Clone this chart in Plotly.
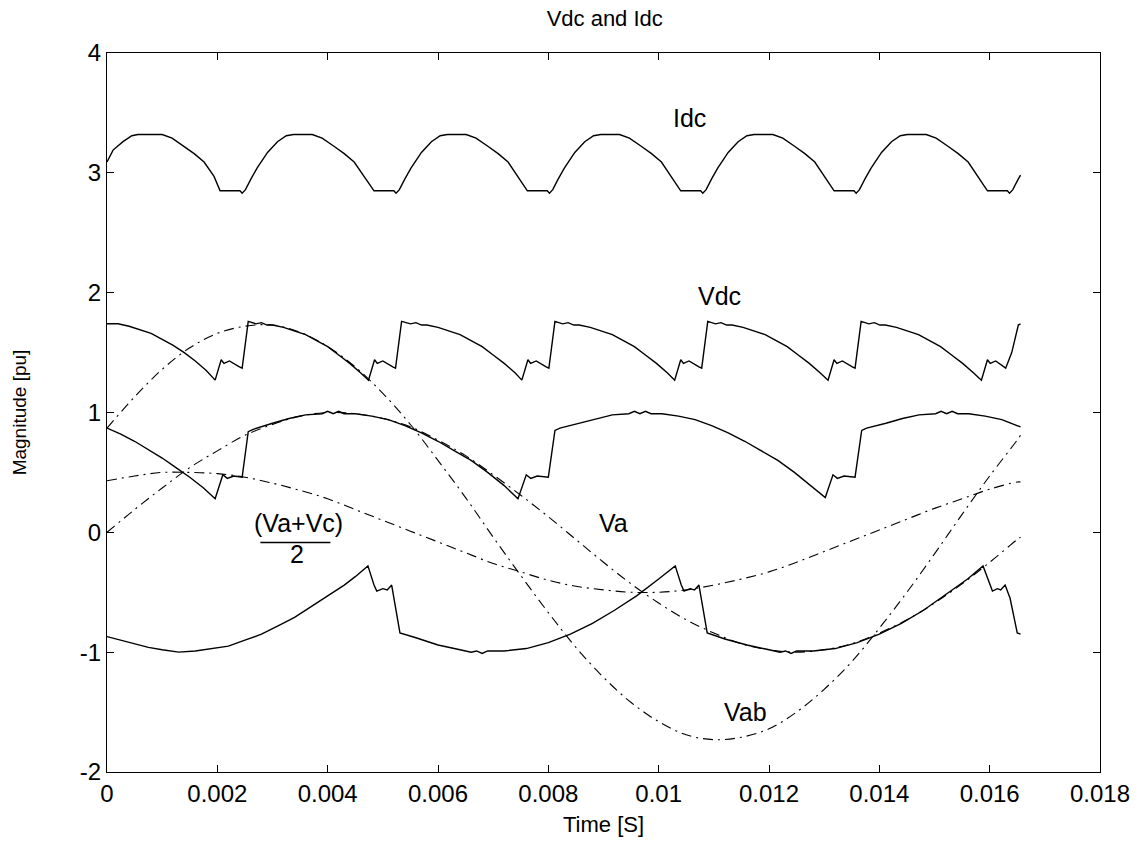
import plotly.graph_objects as go

# ---------------- data ----------------
# Smooth reference waveforms (dash-dot)
t_ref = [0.0, 0.0005, 0.001, 0.0015, 0.002, 0.0025, 0.003, 0.0035, 0.004, 0.0045,
         0.005, 0.0055, 0.006, 0.0065, 0.007, 0.0075, 0.008, 0.0085, 0.009, 0.0095,
         0.010, 0.0105, 0.011, 0.0115, 0.012, 0.0125, 0.013, 0.0135, 0.014, 0.0145,
         0.015, 0.0155, 0.016, 0.0165, 0.01656]
va_vals = [0.00, 0.19, 0.37, 0.54, 0.68, 0.81, 0.90, 0.97, 1.00, 0.99,
           0.95, 0.88, 0.77, 0.64, 0.48, 0.31, 0.13, -0.06, -0.25, -0.43,
           -0.59, -0.73, -0.84, -0.93, -0.98, -1.00, -0.98, -0.93, -0.84, -0.73,
           -0.59, -0.43, -0.25, -0.06, -0.04]
vab_vals = [0.87, 1.13, 1.36, 1.54, 1.66, 1.72, 1.73, 1.67, 1.55, 1.38,
            1.16, 0.90, 0.60, 0.29, -0.04, -0.36, -0.67, -0.96, -1.21, -1.42,
            -1.58, -1.69, -1.73, -1.71, -1.64, -1.50, -1.31, -1.08, -0.80, -0.50,
            -0.18, 0.15, 0.47, 0.77, 0.81]
vmid_vals = [0.43, 0.47, 0.50, 0.50, 0.49, 0.46, 0.41, 0.35, 0.28, 0.19,
             0.10, 0.01, -0.08, -0.17, -0.26, -0.33, -0.40, -0.45, -0.48, -0.50,
             -0.50, -0.48, -0.44, -0.39, -0.33, -0.25, -0.16, -0.07, 0.02, 0.11,
             0.20, 0.28, 0.36, 0.42, 0.42]

# DC current
idc_t = [0.0, 0.00011, 0.00029, 0.00045, 0.00056, 0.001, 0.00118, 0.0014, 0.00158, 0.00176, 0.00194,
         0.00205, 0.00225, 0.00241, 0.00245, 0.00251, 0.00261, 0.00272, 0.00291, 0.00309, 0.00325, 0.00338, 0.00372, 0.0039, 0.00412, 0.0043, 0.00448, 0.00466,
         0.00484, 0.00504, 0.0052, 0.00524, 0.0053, 0.0054, 0.00551, 0.0057, 0.00588, 0.00604, 0.00617, 0.00651, 0.00669, 0.00691, 0.00709, 0.00727, 0.00745,
         0.00762, 0.00782, 0.00798, 0.00802, 0.00808, 0.00818, 0.00829, 0.00848, 0.00866, 0.00882, 0.00895, 0.00929, 0.00947, 0.00969, 0.00987, 0.01005, 0.01023,
         0.0104, 0.0106, 0.01076, 0.0108, 0.01086, 0.01096, 0.01107, 0.01126, 0.01144, 0.0116, 0.01173, 0.01207, 0.01225, 0.01247, 0.01265, 0.01283, 0.01301,
         0.01318, 0.01338, 0.01354, 0.01358, 0.01364, 0.01374, 0.01385, 0.01404, 0.01422, 0.01438, 0.01451, 0.01485, 0.01503, 0.01525, 0.01543, 0.01561, 0.01579,
         0.01596, 0.01616, 0.01632, 0.01636, 0.01642, 0.01652, 0.01656]
idc_vals = [3.09, 3.19, 3.26, 3.31, 3.32, 3.32, 3.29, 3.22, 3.16, 3.09, 2.97,
            2.85, 2.85, 2.85, 2.83, 2.86, 2.95, 3.04, 3.17, 3.26, 3.31, 3.32, 3.32, 3.29, 3.22, 3.16, 3.09, 2.97,
            2.85, 2.85, 2.85, 2.83, 2.86, 2.95, 3.04, 3.17, 3.26, 3.31, 3.32, 3.32, 3.29, 3.22, 3.16, 3.09, 2.97,
            2.85, 2.85, 2.85, 2.83, 2.86, 2.95, 3.04, 3.17, 3.26, 3.31, 3.32, 3.32, 3.29, 3.22, 3.16, 3.09, 2.97,
            2.85, 2.85, 2.85, 2.83, 2.86, 2.95, 3.04, 3.17, 3.26, 3.31, 3.32, 3.32, 3.29, 3.22, 3.16, 3.09, 2.97,
            2.85, 2.85, 2.85, 2.83, 2.86, 2.95, 3.04, 3.17, 3.26, 3.31, 3.32, 3.32, 3.29, 3.22, 3.16, 3.09, 2.97,
            2.85, 2.85, 2.85, 2.83, 2.86, 2.95, 2.98]

# DC voltage
vdc_t = [0.0, 0.0002, 0.0004, 0.0006, 0.0008, 0.001, 0.0012, 0.0014, 0.0016, 0.0018, 0.00196,
         0.00207, 0.00212, 0.00222, 0.00232, 0.0024, 0.00245,
         0.00256, 0.0027, 0.0028, 0.0029, 0.003, 0.0032, 0.0034, 0.0036, 0.0038, 0.004, 0.0042, 0.0044, 0.0046, 0.00474,
         0.00485, 0.0049, 0.005, 0.0051, 0.00518, 0.00523,
         0.00534, 0.0055, 0.0056, 0.0057, 0.0058, 0.006, 0.0062, 0.0064, 0.0066, 0.0068, 0.007, 0.0072, 0.0074, 0.00752,
         0.00763, 0.00768, 0.00778, 0.00788, 0.00796, 0.00801,
         0.00812, 0.00826, 0.00836, 0.00846, 0.00856, 0.00876, 0.00896, 0.00916, 0.00936, 0.00956, 0.00976, 0.00996, 0.01016, 0.01029,
         0.0104, 0.01045, 0.01055, 0.01065, 0.01073, 0.01078,
         0.01089, 0.01103, 0.01113, 0.01123, 0.01133, 0.01153, 0.01173, 0.01193, 0.01213, 0.01233, 0.01253, 0.01273, 0.01293, 0.01307,
         0.01318, 0.01323, 0.01333, 0.01343, 0.01351, 0.01356,
         0.01367, 0.01381, 0.01391, 0.01401, 0.01411, 0.01431, 0.01451, 0.01471, 0.01491, 0.01511, 0.01531, 0.01551, 0.01571, 0.01585,
         0.01596, 0.01601, 0.01611, 0.01621, 0.01629, 0.0164, 0.01652, 0.01656]
vdc_vals = [1.74, 1.74, 1.72, 1.69, 1.66, 1.61, 1.56, 1.50, 1.43, 1.35, 1.27,
            1.44, 1.41, 1.43, 1.40, 1.38, 1.37,
            1.76, 1.74, 1.75, 1.73, 1.73, 1.71, 1.68, 1.65, 1.60, 1.55, 1.48, 1.41, 1.33, 1.27,
            1.44, 1.41, 1.43, 1.40, 1.38, 1.37,
            1.76, 1.74, 1.75, 1.73, 1.73, 1.71, 1.68, 1.65, 1.60, 1.55, 1.48, 1.41, 1.33, 1.27,
            1.44, 1.41, 1.43, 1.40, 1.38, 1.37,
            1.76, 1.74, 1.75, 1.73, 1.73, 1.71, 1.68, 1.65, 1.60, 1.55, 1.48, 1.41, 1.33, 1.27,
            1.44, 1.41, 1.43, 1.40, 1.38, 1.37,
            1.76, 1.74, 1.75, 1.73, 1.73, 1.71, 1.68, 1.65, 1.60, 1.55, 1.48, 1.41, 1.33, 1.27,
            1.44, 1.41, 1.43, 1.40, 1.38, 1.37,
            1.76, 1.74, 1.75, 1.73, 1.73, 1.71, 1.68, 1.65, 1.60, 1.55, 1.48, 1.41, 1.33, 1.27,
            1.44, 1.41, 1.43, 1.40, 1.37, 1.50, 1.73, 1.74]

# Positive rail voltage
vp_t = [0.0, 0.00025, 0.0005, 0.00075, 0.001, 0.00125, 0.0015, 0.00175, 0.00196,
        0.0021, 0.00218, 0.0023, 0.00245,
        0.00256, 0.00265, 0.003, 0.0033, 0.0036, 0.0039, 0.004, 0.0041, 0.0042, 0.0043, 0.0045, 0.0048, 0.0051, 0.0054, 0.0057, 0.006, 0.0063, 0.0066, 0.0069, 0.0072, 0.00745,
        0.0076, 0.00768, 0.0078, 0.008,
        0.00812, 0.00821, 0.00856, 0.00886, 0.00916, 0.00946, 0.00956, 0.00966, 0.00976, 0.00986, 0.01006, 0.01036, 0.01066, 0.01096, 0.01126, 0.01156, 0.01186, 0.01216, 0.01246, 0.01276, 0.01302,
        0.01316, 0.01324, 0.01336, 0.01356,
        0.01368, 0.01377, 0.01412, 0.01442, 0.01472, 0.01502, 0.01512, 0.01522, 0.01532, 0.01542, 0.01562, 0.01592, 0.01622, 0.01656]
vp_vals = [0.87, 0.82, 0.76, 0.69, 0.62, 0.54, 0.46, 0.37, 0.28,
           0.48, 0.45, 0.47, 0.46,
           0.84, 0.86, 0.91, 0.95, 0.98, 0.99, 1.01, 0.99, 1.01, 0.99, 0.99, 0.97, 0.94, 0.89, 0.83, 0.76, 0.68, 0.60, 0.50, 0.39, 0.28,
           0.48, 0.45, 0.47, 0.46,
           0.85, 0.87, 0.91, 0.95, 0.98, 0.99, 1.01, 0.99, 1.01, 0.99, 0.99, 0.97, 0.94, 0.89, 0.83, 0.76, 0.68, 0.60, 0.50, 0.39, 0.29,
           0.48, 0.45, 0.47, 0.46,
           0.85, 0.87, 0.91, 0.95, 0.98, 0.99, 1.01, 0.99, 1.01, 0.99, 0.99, 0.97, 0.94, 0.88]

# Negative rail voltage
vn_t = [0.0, 0.00025, 0.0005, 0.00075, 0.001, 0.0013, 0.0016, 0.0019, 0.0022, 0.0025, 0.0028, 0.0031, 0.0034, 0.0037, 0.004, 0.0043, 0.0045, 0.00473,
        0.00484, 0.00489, 0.005, 0.00508, 0.00516, 0.0052,
        0.00531, 0.0056, 0.006, 0.0064, 0.0066, 0.0067, 0.0068, 0.0069, 0.0072, 0.0076, 0.008, 0.0084, 0.0088, 0.0092, 0.0096, 0.01, 0.0103,
        0.01041, 0.01046, 0.01057, 0.01065, 0.01073, 0.01077,
        0.01088, 0.0112, 0.0116, 0.012, 0.0122, 0.0123, 0.0124, 0.0125, 0.0128, 0.0132, 0.0136, 0.014, 0.0144, 0.0148, 0.0152, 0.0156, 0.01588,
        0.01596, 0.01605, 0.01614, 0.0162, 0.01628, 0.01637, 0.0165, 0.01656]
vn_vals = [-0.87, -0.90, -0.93, -0.96, -0.98, -1.00, -0.99, -0.97, -0.95, -0.90, -0.85, -0.78, -0.71, -0.62, -0.53, -0.44, -0.37, -0.28,
           -0.44, -0.49, -0.47, -0.48, -0.44, -0.55,
           -0.84, -0.88, -0.94, -0.98, -1.00, -0.99, -1.01, -0.99, -0.99, -0.97, -0.92, -0.85, -0.76, -0.65, -0.53, -0.39, -0.28,
           -0.44, -0.49, -0.47, -0.48, -0.44, -0.55,
           -0.84, -0.89, -0.94, -0.98, -1.00, -0.99, -1.01, -0.99, -0.99, -0.97, -0.92, -0.85, -0.76, -0.65, -0.52, -0.39, -0.28,
           -0.38, -0.49, -0.47, -0.48, -0.44, -0.55, -0.84, -0.85]

x_ticks = [0, 0.002, 0.004, 0.006, 0.008, 0.010, 0.012, 0.014, 0.016, 0.018]
x_tick_labels = ["0", "0.002", "0.004", "0.006", "0.008", "0.01", "0.012", "0.014", "0.016", "0.018"]
y_ticks = [-2, -1, 0, 1, 2, 3, 4]
y_tick_labels = ["-2", "-1", "0", "1", "2", "3", "4"]

# ---------------- figure ----------------
FONT = "Liberation Sans, Arial, Helvetica, sans-serif"
DASHDOT = "10px,5px,2px,5px"

fig = go.Figure()
solid = dict(color="black", width=1.4)
dd = dict(color="black", width=1.1, dash=DASHDOT, shape="spline")

fig.add_trace(go.Scatter(x=t_ref, y=vab_vals, mode="lines", line=dd, name="Vab"))
fig.add_trace(go.Scatter(x=t_ref, y=va_vals, mode="lines", line=dd, name="Va"))
fig.add_trace(go.Scatter(x=t_ref, y=vmid_vals, mode="lines", line=dd, name="(Va+Vc)/2"))
fig.add_trace(go.Scatter(x=idc_t, y=idc_vals, mode="lines", line=solid, name="Idc"))
fig.add_trace(go.Scatter(x=vdc_t, y=vdc_vals, mode="lines", line=solid, name="Vdc"))
fig.add_trace(go.Scatter(x=vp_t, y=vp_vals, mode="lines", line=solid, name="Vp"))
fig.add_trace(go.Scatter(x=vn_t, y=vn_vals, mode="lines", line=solid, name="Vn"))

lab_font = dict(family=FONT, size=25, color="black")
annots = [
    dict(x=0.01056, y=3.46, text="Idc"),
    dict(x=0.01111, y=1.97, text="Vdc"),
    dict(x=0.00918, y=0.08, text="Va"),
    dict(x=0.01157, y=-1.50, text="Vab"),
    dict(x=0.00347, y=0.08, text="(Va+Vc)"),
    dict(x=0.00345, y=-0.18, text="2"),
]
for a in annots:
    fig.add_annotation(x=a["x"], y=a["y"], text=a["text"], showarrow=False,
                       font=lab_font, xanchor="center", yanchor="middle")

fig.add_shape(type="line", x0=0.00278, x1=0.00405, y0=-0.085, y1=-0.085,
              line=dict(color="black", width=1.4))

axis_common = dict(showgrid=False, zeroline=False, showline=True, linecolor="black",
                   linewidth=1.3, mirror="ticks", ticks="inside", ticklen=7,
                   tickcolor="black", tickwidth=1,
                   tickfont=dict(family=FONT, size=24, color="black"))

fig.update_xaxes(range=[0, 0.018], tickvals=x_ticks, ticktext=x_tick_labels,
                 title=dict(text="Time [S]", font=dict(family=FONT, size=22, color="black"), standoff=10),
                 **axis_common)
fig.update_yaxes(range=[-2, 4], tickvals=y_ticks, ticktext=y_tick_labels,
                 title=dict(text="Magnitude [pu]", font=dict(family=FONT, size=19, color="black"), standoff=48),
                 **axis_common)

fig.update_layout(
    width=1141, height=846,
    margin=dict(l=107, r=41, t=53, b=74),
    paper_bgcolor="white", plot_bgcolor="white",
    showlegend=False,
    title=dict(text="Vdc and Idc", x=0.53, xanchor="center", y=0.978, yanchor="middle",
               font=dict(family=FONT, size=22, color="black")),
)

fig.write_html("out.html")
